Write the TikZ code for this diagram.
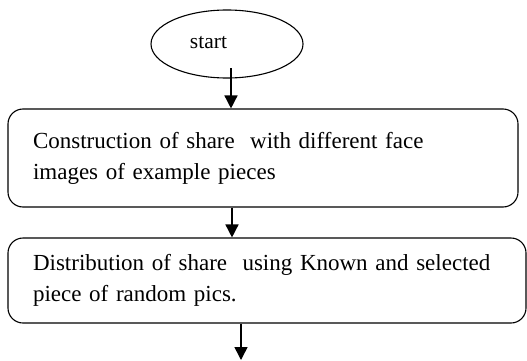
\documentclass[tikz,border=0pt]{standalone}
\usepackage{fontspec}
\setmainfont{Liberation Serif}
\usetikzlibrary{arrows.meta,shapes.geometric}
\begin{document}
\begin{tikzpicture}[x=1pt,y=1pt,
  every node/.style={font=\fontsize{23}{31}\selectfont},
  flowbox/.style={draw,line width=1.1pt,rounded corners=15pt,align=left,
    inner xsep=25pt,inner ysep=0pt,anchor=center},
  flowarrow/.style={line width=1.5pt,-{Triangle[length=13pt,width=13pt]}}]
  \useasboundingbox (0,0) rectangle (527,360);
  % start terminal
  \node[draw,ellipse,line width=1.1pt,minimum width=152pt,minimum height=68pt,inner sep=0pt]
    (start) at (227,316) {};
  \node[inner sep=0pt,font=\fontsize{21.5}{26}\selectfont] (startlbl) at (208.5,317) {start};
  % process boxes
  \node[flowbox,minimum width=510pt,minimum height=98pt,text width=460pt]
    (constr) at (263,202) {Construction of share\ \ with different face\\images of example pieces};
  \node[flowbox,minimum width=518pt,minimum height=85pt,text width=468pt]
    (distr) at (267,79.5) {Distribution of share\ \ using Known and selected\\piece of random pics.};
  % connectors
  \coordinate (a1) at (231,292);
  \coordinate (a3) at (241,0);
  \draw[flowarrow] (a1) -- (a1 |- constr.north);
  \draw[flowarrow] (constr.south -| 232,0) -- (distr.north -| 232,0);
  \draw[flowarrow] (distr.south -| a3) -- (a3);
\end{tikzpicture}
\end{document}
